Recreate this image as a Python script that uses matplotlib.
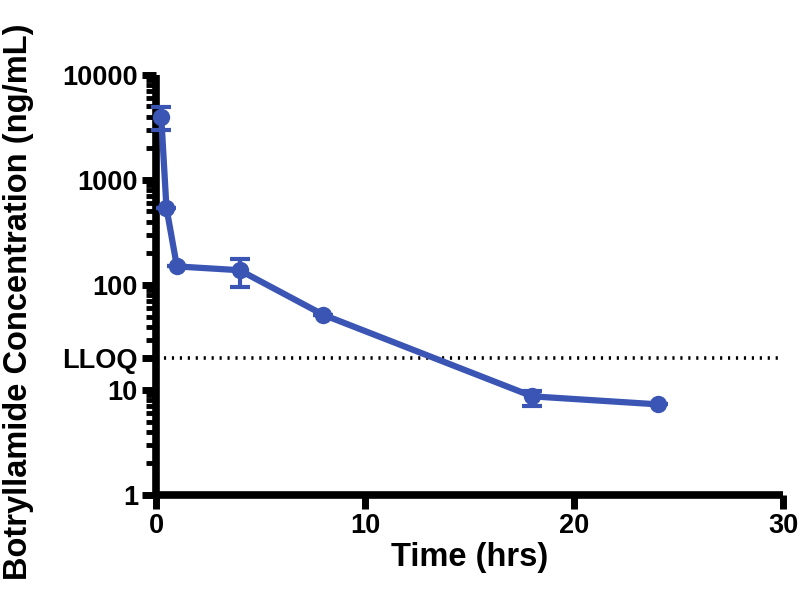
import numpy as np
import matplotlib.pyplot as plt
from matplotlib.ticker import LogLocator, NullFormatter

plt.rcParams['font.family'] = ['Liberation Sans', 'DejaVu Sans']
plt.rcParams['font.weight'] = 'bold'

# mean concentration over time, with error bars
time_hrs = [0.25, 0.5, 1, 4, 8, 18, 24]
conc = [4000, 540, 150, 138, 52, 8.7, 7.3]
err_lo = [1000, 0, 0, 42, 0, 1.7, 0]
err_hi = [900, 0, 0, 38, 0, 1.0, 0]
lloq = 20

yticks = [1, 10, lloq, 100, 1000, 10000]
ytick_labels = ['1', '10', 'LLOQ', '100', '1000', '10000']
xticks = [0, 10, 20, 30]

blue = '#3a55b3'

fig = plt.figure(figsize=(8, 6.03), dpi=100)
ax = fig.add_axes([0.195, 0.179, 0.784, 0.697])

ax.plot([0, 30], [lloq, lloq], color='black', linestyle=(0, (0.6, 1.6)),
        linewidth=2.6, zorder=1)
ax.errorbar(time_hrs, conc, yerr=[err_lo, err_hi], color=blue, linewidth=4.5,
            marker='o', markersize=11.5, elinewidth=3, capsize=7.5, capthick=3,
            zorder=3, clip_on=False)

ax.set_yscale('log')
ax.set_ylim(1, 10000)
ax.set_xlim(0, 30)
ax.set_yticks(yticks)
ax.set_yticklabels(ytick_labels)
ax.yaxis.set_minor_locator(LogLocator(base=10, subs=np.arange(2, 10)))
ax.yaxis.set_minor_formatter(NullFormatter())
ax.set_xticks(xticks)

for side in ['top', 'right']:
    ax.spines[side].set_visible(False)
for side in ['left', 'bottom']:
    ax.spines[side].set_linewidth(5.5)
    ax.spines[side].set_capstyle('butt')

ax.tick_params(axis='both', which='major', length=10, width=5, labelsize=19.5, pad=3)
ax.tick_params(axis='y', which='minor', length=7, width=3.5)

ax.set_xlabel('Time (hrs)', fontsize=23.5, fontweight='bold', labelpad=2)
ax.set_ylabel('Botryllamide Concentration (ng/mL)', fontsize=23.5,
              fontweight='bold')
ax.yaxis.set_label_coords(-0.195, 0.46)

fig.savefig('out.png', dpi=100)
